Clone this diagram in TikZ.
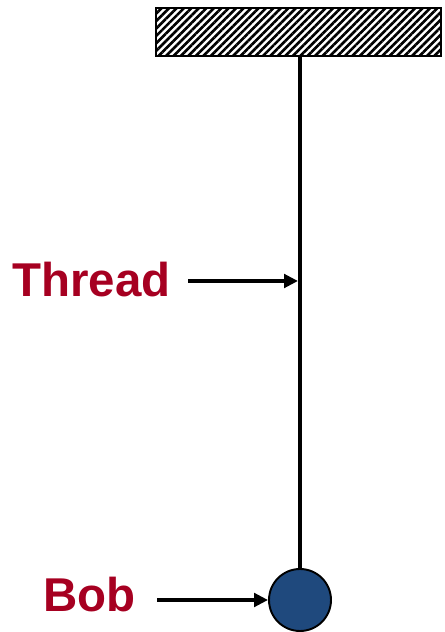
\documentclass[tikz,border=0pt]{standalone}
\usepackage{fontspec}
\setmainfont{Liberation Sans}
\usetikzlibrary{arrows.meta,patterns.meta}

\begin{document}
\begin{tikzpicture}
            \definecolor{labelcolor}{RGB}{166,0,33}
            \definecolor{bobcolor}{RGB}{31,73,125}
            \tikzset{
                label text/.style={text=labelcolor, inner sep=0pt, font=\fontsize{27}{32}\selectfont\bfseries},
                pointer/.style={line width=2.4pt, -{Triangle[length=0.28cm,width=0.27cm]}}
            }
            \useasboundingbox (0,0) rectangle (8.88,12.64);

            % Supporto
            \node[draw, line width=1.2pt, minimum width=5.7cm, minimum height=0.96cm, inner sep=0pt,
                  pattern={Lines[angle=45,distance=3pt,line width=1.5pt]}] (ceiling) at (5.97,12.0) {};

            % Pendolo
            \node[circle, draw, line width=1.1pt, fill=bobcolor, minimum size=1.24cm, inner sep=0pt] (bob) at (6.0,0.64) {};
            \draw[line width=2.5pt] (ceiling.south -| bob.north) -- (bob.north);
            \coordinate (threadpt) at (5.96,7.02);

            % Etichette
            \node[label text, anchor=east] (threadlbl) at (3.42,7.04) {Thread};
            \draw[pointer] (3.76,7.02) -- (threadpt);
            \node[label text, anchor=east] (boblbl) at (2.72,0.74) {Bob};
            \draw[pointer] (3.14,0.64) -- (bob.west);
        \end{tikzpicture}
\end{document}
